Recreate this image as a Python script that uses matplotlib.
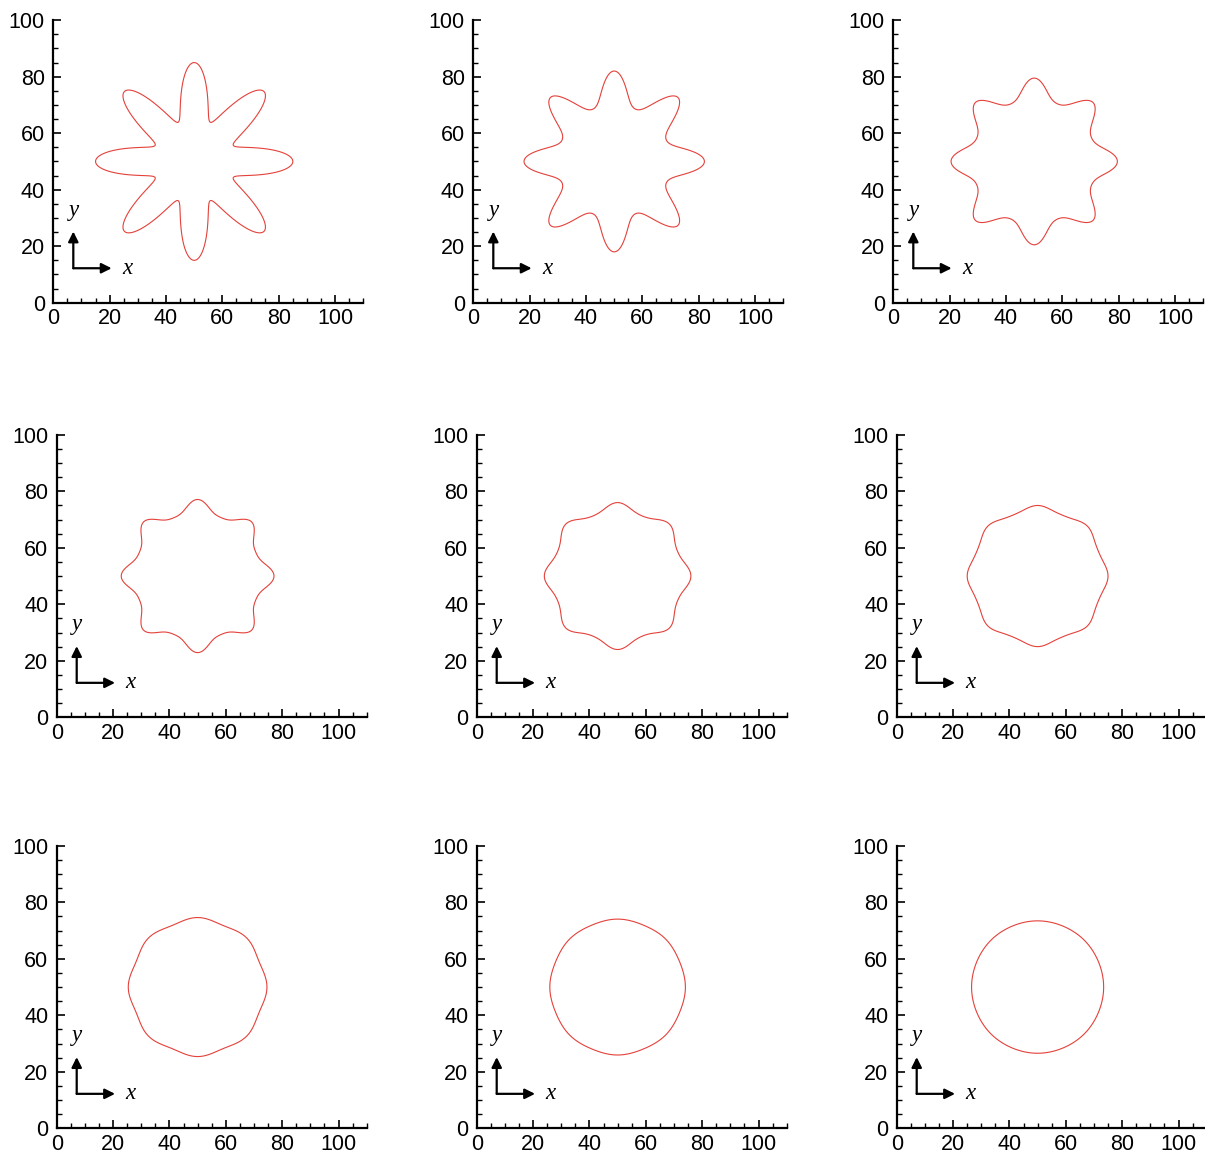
import matplotlib
matplotlib.use("Agg")
import matplotlib.pyplot as plt
from matplotlib.ticker import MultipleLocator
import numpy as np

# interface shape of each frame: mean radius, mode-8 and mode-16 amplitudes
centre = (50.0, 50.0)
r_mean = [24.5, 25.2, 25.25, 24.3, 24.35, 24.05, 24.1, 23.9, 23.4]
amp8   = [10.0, 6.0, 3.75, 2.4, 1.5, 0.85, 0.5, 0.15, 0.03]
amp16  = [0.5, 0.8, 0.5, 0.4, 0.15, 0.08, 0.0, 0.0, 0.0]

xticks = [0, 20, 40, 60, 80, 100]
yticks = [0, 20, 40, 60, 80, 100]

W, H = 1205, 1153
fig = plt.figure(figsize=(W/100, H/100), dpi=100)

# axes origins in pixels (left, bottom of the data origin)
col_left = [[53.3, 473.3, 893.3], [56.7, 476.7, 896.7], [56.7, 476.7, 896.7]]
row_bottom = [302.7, 717.3, 1128.3]
ax_w = 310.0
ax_h = 282.5

red = "#e4413a"
arrow_kw = dict(arrowstyle="-|>,head_length=0.6,head_width=0.3", color="black", lw=1.6,
                shrinkA=0, shrinkB=0)

theta = np.linspace(0, 2*np.pi, 1441)

for i in range(9):
	row, col = divmod(i, 3)
	left = col_left[row][col] / W
	bottom = (H - row_bottom[row]) / H
	ax = fig.add_axes([left, bottom, ax_w/W, ax_h/H])

	r = r_mean[i] + amp8[i]*np.cos(8*theta) + amp16[i]*np.cos(16*theta)
	ax.fill(centre[0] + r*np.cos(theta), centre[1] + r*np.sin(theta), fill=False,
		edgecolor=red, lw=0.8, joinstyle="round")

	ax.set_xlim(0, 110)
	ax.set_ylim(0, 100)
	ax.set_xticks(xticks)
	ax.set_yticks(yticks)
	ax.xaxis.set_minor_locator(MultipleLocator(5))
	ax.yaxis.set_minor_locator(MultipleLocator(5))
	for s in ["top", "right"]:
		ax.spines[s].set_visible(False)
	for s in ["left", "bottom"]:
		ax.spines[s].set_linewidth(1.6)
	ax.tick_params(which="major", direction="in", length=5.5, width=1.2, labelsize=15.5, pad=6)
	ax.tick_params(which="minor", direction="in", length=3.5, width=1.0)
	for lab in ax.get_xticklabels() + ax.get_yticklabels():
		lab.set_family("Liberation Sans")
	ax.tick_params(axis="x", pad=4)

	# little coordinate-system sketch
	ax.annotate("", xy=(20.7, 12.2), xytext=(7.1, 12.2), arrowprops=arrow_kw)
	ax.annotate("", xy=(7.1, 25.2), xytext=(7.1, 12.2), arrowprops=arrow_kw)
	ax.text(24.5, 12.2, "x", family="Liberation Serif", style="italic", fontsize=16.5,
		ha="left", va="center")
	ax.text(7.3, 29.0, "y", family="Liberation Serif", style="italic", fontsize=16.5,
		ha="center", va="bottom")

plt.savefig("out.png", dpi=100)
